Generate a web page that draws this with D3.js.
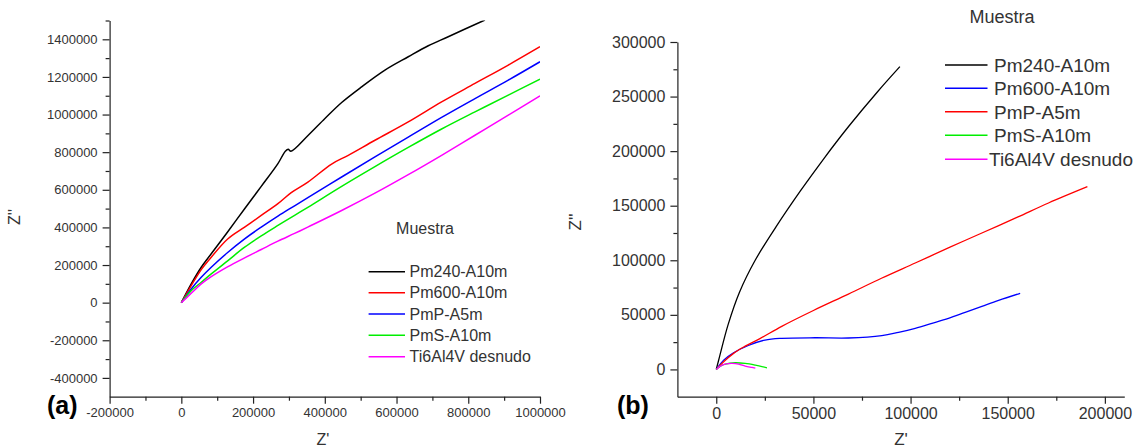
<!DOCTYPE html>
<html>
<head>
<meta charset="utf-8">
<script src="https://cdn.jsdelivr.net/npm/d3@7"></script>
<style>
  html, body { margin: 0; padding: 0; background: #fff; }
  svg { display: block; font-family: "Liberation Sans", Arial, sans-serif; }
</style>
</head>
<body>
<svg id="chart" width="1148" height="448"></svg>
<script>
// ---------- Panel (a) data: [Z', Z''] ----------
const aPm240 = [[0,0],[27600,99600],[55500,188100],[83400,259600],[130000,378400],[176500,499300],[222800,618200],[269300,739100],[290000,805000],[298100,815300],[305600,804700],[353900,889900],[400400,978900],[447000,1064200],[502700,1147300],[567700,1236300],[632700,1307200],[688500,1365800],[744100,1413800],[846500,1502800]];
const aPm600 = [[0,0],[27600,90600],[55500,175800],[83400,241400],[130000,339400],[176500,401300],[222800,463600],[269300,526000],[306400,585000],[352900,641100],[419000,737000],[465400,783400],[539800,863300],[632700,960900],[725700,1067400],[818700,1165400],[911600,1263000],[1000000,1360500]];
const aPmP = [[0,0],[27600,72900],[55500,134800],[83400,188100],[130000,268000],[176500,339400],[222800,401300],[269300,460000],[315800,515000],[353900,560000],[447000,668000],[539800,775000],[632700,880000],[725700,985000],[818700,1085000],[911600,1183000],[1000000,1280600]];
const aPmS = [[0,0],[27600,63900],[55500,108200],[83400,152700],[130000,223800],[176500,294700],[222800,355000],[269300,410300],[315800,464000],[353900,508000],[447000,618000],[539800,723000],[632700,825000],[725700,923000],[818700,1014100],[911600,1103100],[1000000,1188400]];
const aTi = [[0,0],[27600,49700],[55500,99600],[83400,138600],[130000,191900],[176500,238200],[222800,282400],[269300,326700],[315800,368000],[353900,403000],[447000,490000],[539800,582000],[632700,680500],[725700,783400],[818700,889900],[911600,996500],[1000000,1099400]];

// ---------- Panel (b) data: [Z', Z''] ----------
const bPm240 = [[0,0],[1600,11000],[6100,41000],[11900,70500],[20100,100200],[30900,131000],[43300,163500],[55300,193000],[68200,222800],[82800,254000],[94500,277400]];
const bPm600 = [[0,0],[3800,8500],[8900,15200],[16500,21900],[25100,26900],[33700,28500],[50900,29000],[68000,28800],[85200,30900],[93800,34000],[102400,37700],[111000,42200],[119500,46800],[128100,52300],[136700,57800],[145300,63300],[156400,69700]];
const bPmP = [[0,0],[3800,7000],[8900,14700],[14100,20500],[22700,28500],[33700,39500],[50000,54000],[68000,69000],[85000,83500],[102400,97500],[120000,111800],[136700,125000],[155000,139500],[171000,152500],[191000,167400]];
const bPmS = [[0,0],[2100,3000],[4600,4900],[9800,6100],[14900,5500],[20100,3900],[26100,1500]];
const bTi = [[0,0],[2100,3000],[4600,4900],[8100,5500],[11500,4900],[14900,3000],[18400,1800],[20100,1200]];

// ---------- Legends / ticks ----------
const legendTitle = "Muestra";
const aNames = ["Pm240-A10m", "Pm600-A10m", "PmP-A5m", "PmS-A10m", "Ti6Al4V desnudo"];
const aColors = ["#000000", "#ff0000", "#0000ff", "#00ee00", "#ff00ff"];
const bNames = ["Pm240-A10m", "Pm600-A10m", "PmP-A5m", "PmS-A10m", "Ti6Al4V desnudo"];
const bColors = ["#000000", "#0000ff", "#ff0000", "#00ee00", "#ff00ff"];

const aXMajor = [-200000, 0, 200000, 400000, 600000, 800000, 1000000];
const aXMinor = [-100000, 100000, 300000, 500000, 700000, 900000];
const aYMajor = [-400000, -200000, 0, 200000, 400000, 600000, 800000, 1000000, 1200000, 1400000];
const aYMinor = [-300000, -100000, 100000, 300000, 500000, 700000, 900000, 1100000, 1300000, 1500000];
const bXMajor = [0, 50000, 100000, 150000, 200000];
const bXMinor = [25000, 75000, 125000, 175000];
const bYMajor = [0, 50000, 100000, 150000, 200000, 250000, 300000];
const bYMinor = [25000, 75000, 125000, 175000, 225000, 275000];

const svg = d3.select("#chart");
const fmt = d => String(d);  // plain hyphen-minus like the original

function drawPanel(cfg) {
  const x = d3.scaleLinear().domain(cfg.xDomain).range(cfg.xRange);
  const y = d3.scaleLinear().domain(cfg.yDomain).range(cfg.yRange);
  const g = svg.append("g");
  const axisColor = "#222";
  const textColor = "#333";

  const clipId = "clip" + cfg.id;
  svg.append("clipPath").attr("id", clipId).append("rect")
    .attr("x", cfg.xRange[0]).attr("y", cfg.yRange[1])
    .attr("width", cfg.xRange[1] - cfg.xRange[0])
    .attr("height", cfg.yRange[0] - cfg.yRange[1]);

  const line = d3.line().x(d => x(d[0])).y(d => y(d[1])).curve(d3.curveCatmullRom.alpha(0.5));
  const cg = g.append("g").attr("clip-path", `url(#${clipId})`);
  cfg.series.forEach((s, i) => {
    cg.append("path").datum(s).attr("d", line)
      .attr("fill", "none").attr("stroke", cfg.colors[i])
      .attr("stroke-width", cfg.lw).attr("stroke-linejoin", "round");
  });

  const xAxisY = cfg.yRange[0];
  const xg = g.append("g").attr("transform", `translate(0,${xAxisY})`)
    .call(d3.axisBottom(x).tickValues(cfg.xMajor).tickSize(7).tickSizeOuter(0).tickPadding(4).tickFormat(fmt));
  g.append("g").attr("transform", `translate(0,${xAxisY})`)
    .call(d3.axisBottom(x).tickValues(cfg.xMinor).tickSize(4).tickSizeOuter(0).tickFormat(""))
    .call(s => s.select(".domain").remove());
  const yAxisX = cfg.xRange[0];
  const yg = g.append("g").attr("transform", `translate(${yAxisX},0)`)
    .call(d3.axisLeft(y).tickValues(cfg.yMajor).tickSize(7).tickSizeOuter(0).tickPadding(5).tickFormat(fmt));
  g.append("g").attr("transform", `translate(${yAxisX},0)`)
    .call(d3.axisLeft(y).tickValues(cfg.yMinor).tickSize(4).tickSizeOuter(0).tickFormat(""))
    .call(s => s.select(".domain").remove());

  g.selectAll(".domain, .tick line").attr("stroke", axisColor).attr("stroke-width", 1.2);
  [xg, yg].forEach(a => a.selectAll("text")
    .attr("fill", textColor).attr("font-size", cfg.tickFont)
    .attr("font-family", "Liberation Sans, Arial, sans-serif"));

  g.append("text").attr("x", cfg.xTitle[0]).attr("y", cfg.xTitle[1])
    .attr("text-anchor", "middle").attr("font-size", cfg.titleFont).attr("fill", textColor).text("Z'");
  g.append("text")
    .attr("transform", `translate(${cfg.yTitle[0]},${cfg.yTitle[1]}) rotate(-90)`)
    .attr("text-anchor", "middle").attr("font-size", cfg.titleFont).attr("fill", textColor).text("Z''");

  g.append("text").attr("x", cfg.panelLabel[0]).attr("y", cfg.panelLabel[1])
    .attr("font-size", 25).attr("font-weight", "bold").attr("fill", "#000").text(cfg.label);

  const lg = g.append("g");
  lg.append("text").attr("x", cfg.legTitle[0]).attr("y", cfg.legTitle[1])
    .attr("text-anchor", "middle").attr("font-size", cfg.legTitleFont).attr("fill", textColor).text(legendTitle);
  cfg.names.forEach((n, i) => {
    const cy = cfg.legRows[i];
    lg.append("line").attr("x1", cfg.legLine[0]).attr("x2", cfg.legLine[1])
      .attr("y1", cy).attr("y2", cy).attr("stroke", cfg.colors[i]).attr("stroke-width", 1.4);
    lg.append("text").attr("x", cfg.legTextX[i]).attr("y", cy).attr("dy", "0.36em")
      .attr("font-size", cfg.legFont).attr("fill", textColor).text(n);
  });
}

drawPanel({
  id: "a", label: "(a)",
  xDomain: [-200000, 1000000], xRange: [109.6, 540],
  yDomain: [-500000, 1500000], yRange: [396.7, 20.5],
  series: [aPm240, aPm600, aPmP, aPmS, aTi], colors: aColors, names: aNames,
  xMajor: aXMajor, xMinor: aXMinor, yMajor: aYMajor, yMinor: aYMinor,
  lw: 1.5, tickFont: 13, titleFont: 16,
  xTitle: [323, 445], yTitle: [20, 217], panelLabel: [47, 414],
  legTitle: [425, 234], legTitleFont: 16,
  legLine: [368.6, 405], legTextX: [409.6, 409.6, 409.6, 409.6, 409.6],
  legRows: [271.7, 292.7, 314, 335.3, 356.7], legFont: 16
});

drawPanel({
  id: "b", label: "(b)",
  xDomain: [-20000, 210000], xRange: [677.4, 1124.3],
  yDomain: [-25000, 300000], yRange: [396.7, 42],
  series: [bPm240, bPm600, bPmP, bPmS, bTi], colors: bColors, names: bNames,
  xMajor: bXMajor, xMinor: bXMinor, yMajor: bYMajor, yMinor: bYMinor,
  lw: 1.3, tickFont: 16, titleFont: 17,
  xTitle: [901, 445], yTitle: [581, 222], panelLabel: [617, 414],
  legTitle: [1002, 23], legTitleFont: 18,
  legLine: [945, 987.5], legTextX: [994, 994, 994, 994, 989],
  legRows: [65, 88.3, 111.7, 135.2, 159.2], legFont: 19
});
</script>
</body>
</html>
